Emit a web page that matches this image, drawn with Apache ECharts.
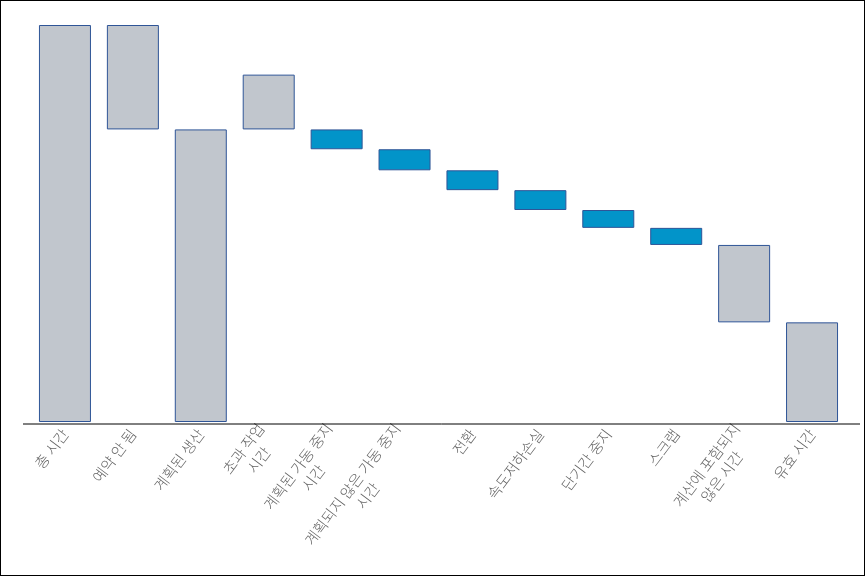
<!DOCTYPE html>
<html>
<head>
<meta charset="utf-8">
<script src="https://cdn.jsdelivr.net/npm/echarts@6/dist/echarts.min.js"></script>
<style>
    html, body { margin: 0; padding: 0; background: #fff; }
    #chart { width: 865px; height: 576px; box-sizing: border-box; border: 1px solid #000; }
</style>
</head>
<body>
<div id="chart"></div>
<script>
// 항목
let categories = [
    '총 시간', '예약 안 됨', '계획된 생산', '초과 작업\n시간',
    '계획된 가동 중지\n시간', '계획되지 않은 가동 중지\n시간', '전환', '속도저하손실',
    '단기간 중지', '스크랩', '계산에 포함되지\n않은 시간', '유효 시간'
];
// 막대 시작값 (투명)
let baseValues = [0, 73.7, 0, 73.7, 68.7, 63.4, 58.4, 53.4, 48.9, 44.6, 25.1, 0];
// 막대 길이
let barValues = [100, 26.3, 73.7, 13.8, 5.0, 5.3, 5.0, 5.0, 4.5, 4.3, 19.5, 25.1];
// 회색 = 합계/주요 항목, 파랑 = 손실 항목
let barKinds = ['main', 'main', 'main', 'main', 'loss', 'loss', 'loss', 'loss', 'loss', 'loss', 'main', 'main'];

let kindColor = { main: '#C1C6CD', loss: '#0294C9' };

let chartNode = echarts.init(document.getElementById('chart'));

let option = {
    animation: false,
    grid: {
        left: 30,
        right: 18,
        top: 24,
        bottom: 153
    },
    xAxis: {
        type: 'category',
        data: categories,
        axisLine: { show: false },
        axisTick: { show: false },
        axisLabel: {
            interval: 0,
            rotate: 53,
            margin: 9,
            fontSize: 15,
            fontFamily: 'Noto Sans CJK KR',
            color: '#666',
            // 여러 줄 라벨은 줄마다 가운데 정렬
            formatter: (val) => val.split('\n').map(s => '{c|' + s + '}').join('\n'),
            rich: {
                c: {
                    align: 'center',
                    fontSize: 15,
                    fontWeight: 300,
                    lineHeight: 19,
                    fontFamily: 'Noto Sans CJK KR',
                    color: '#666'
                }
            }
        }
    },
    yAxis: {
        type: 'value',
        min: 0,
        max: 100,
        show: false,
        splitLine: { show: false }
    },
    series: [
        {
            type: 'bar',
            stack: 'w',
            barWidth: 52,
            itemStyle: { color: 'transparent' },
            silent: true,
            data: baseValues
        },
        {
            type: 'bar',
            stack: 'w',
            barWidth: 52,
            data: barValues.map((v, i) => ({
                value: v,
                itemStyle: {
                    color: kindColor[barKinds[i]],
                    borderColor: '#2F5597',
                    borderWidth: 1
                }
            }))
        }
    ],
    graphic: [
        {
            type: 'line',
            shape: { x1: 22, y1: 423, x2: 859, y2: 423 },
            style: { stroke: '#000', lineWidth: 1 },
            z: 10
        }
    ]
};

chartNode.setOption(option);
</script>
</body>
</html>
